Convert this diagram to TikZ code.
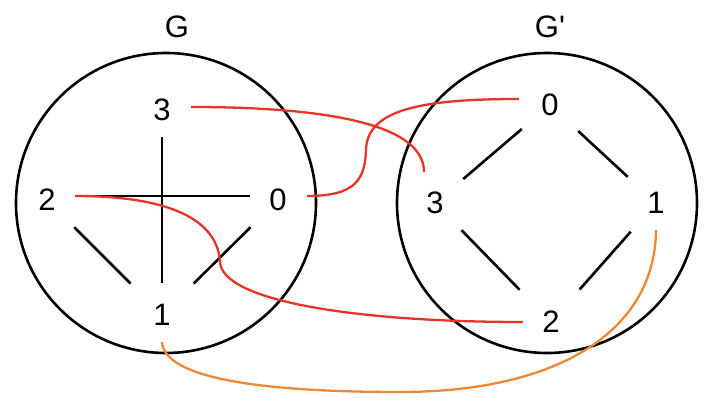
\documentclass[tikz,border=0pt]{standalone}
\usepackage{fontspec}
\newfontfamily\labfont{Liberation Sans}
\usetikzlibrary{calc}
\definecolor{linkred}{RGB}{232,52,38}
\definecolor{linkorange}{RGB}{240,135,50}
\begin{document}
\begin{tikzpicture}[x=1pt,y=-1pt,
  vert/.style={rectangle, minimum width=56pt, minimum height=54pt, inner sep=0pt,
    font=\labfont\fontsize{31}{36}\selectfont},
  gtitle/.style={inner sep=0pt, font=\labfont\fontsize{31}{36}\selectfont},
  gring/.style={draw=black, circle, minimum size=300pt, inner sep=0pt, line width=2.6pt},
  gedge/.style={line width=2.6pt, black},
  redlink/.style={line width=2.3pt, linkred},
  orangelink/.style={line width=2.3pt, linkorange}]
\useasboundingbox (0,0) rectangle (716,414);
% rings
\node[gring] (ringG) at (166,203) {};
\node[gring] (ringH) at (547,203) {};
% titles
\node[gtitle] (tG) at (177,27) {G};
\node[gtitle] (tH) at (550,27) {G'};
% left graph
\node[vert] (l3) at (162,110) {3};
\node[vert] (l2) at (47,200) {2};
\node[vert] (l0) at (278,200) {0};
\node[vert] (l1) at (162,315) {1};
% right graph
\node[vert] (r0) at (550,105) {0};
\node[vert] (r3) at (435,203) {3};
\node[vert] (r1) at (656,203) {1};
\node[vert] (r2) at (551,322) {2};
% left edges
\draw[gedge, shorten >=5pt] (l3) -- (l1);
\draw[gedge] ($(l2.east)+(0,-4)$) -- ($(l0.west)+(0,-4)$);
\draw[gedge, shorten >=6pt] (l2) -- (l1);
\draw[gedge, shorten >=6pt] (l0) -- (l1);
% right edges
\draw[gedge] (r0) -- (r3);
\draw[gedge] (r0) -- (r1);
\draw[gedge, shorten >=7pt] (r3) -- (r2);
\draw[gedge, shorten >=7pt, shorten <=2pt] (r1) -- (r2);
% mapping links
\draw[redlink] ($(l3.east)+(1,-3)$) .. controls (330,107) and (424,125) .. ($(r3.north)+(-11,-4)$);
\draw[redlink] ($(l0.east)+(1,-4)$) .. controls (355,196) and (365,180) .. (366,150)
  .. controls (367,110) and (420,99) .. ($(r0.west)+(-3,-6)$);
\draw[redlink] ($(l2.east)+(0,-4)$) .. controls (180,196) and (218,225) .. (220,262)
  .. controls (222,300) and (350,322) .. (r2.west);
\draw[orangelink] (l1.south) .. controls (165,385) and (300,392) .. (400,392)
  .. controls (560,392) and (655,330) .. (r1.south);
\end{tikzpicture}
\end{document}
